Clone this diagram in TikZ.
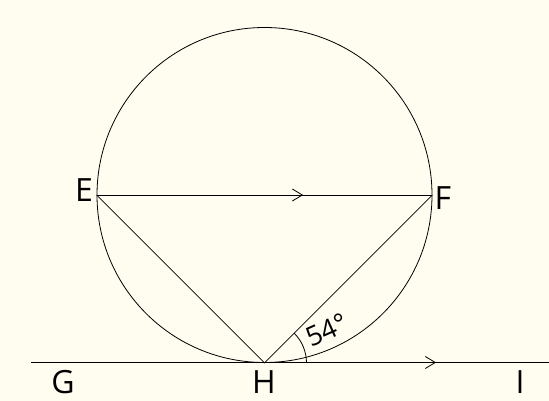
\documentclass[tikz,border=0pt]{standalone}
\usepackage{fontspec}
\setmainfont{Open Sans}
\usetikzlibrary{arrows.meta,decorations.markings}
\definecolor{bgcream}{RGB}{255,252,240}
\tikzset{
  geo/.style={draw=black,line width=0.8pt},
  lbl/.style={font=\fontsize{32}{34}\selectfont,inner sep=0pt},
  midarrow/.style={postaction={decorate},decoration={markings,mark=at position #1 with {\arrow{Straight Barb[length=10pt,width=12pt,line width=0.8pt]}}}}
}
\begin{document}
\begin{tikzpicture}[x=1pt,y=1pt]
\fill[bgcream] (0,0) rectangle (549,401);
\useasboundingbox (0,0) rectangle (549,401);
\node[circle,geo,minimum size=335pt,inner sep=0pt] (O) at (264.5,206) {};
\coordinate (E) at (O.west);
\coordinate (F) at (O.east);
\coordinate (H) at (O.south);
\coordinate (Gl) at (31,38.5);
\coordinate (Ir) at (549,38.5);
\draw[geo,midarrow=0.782] (Gl) -- (Ir);
\draw[geo,midarrow=0.615] (E) -- (F);
\draw[geo] (E) -- (H) -- (F);
\draw[geo] ([shift={(0:42)}]H) arc[start angle=0,end angle=45,radius=42];
\node[lbl] (lE) at (84,211) {E};
\node[lbl] (lF) at (443,203) {F};
\node[lbl] (lG) at (63,19) {G};
\node[lbl] (lH) at (264,19) {H};
\node[lbl] (lI) at (520,19) {I};
\node[lbl,font=\fontsize{27}{29}\selectfont,rotate=24] (a54) at (327,71) {54°};
\end{tikzpicture}
\end{document}
